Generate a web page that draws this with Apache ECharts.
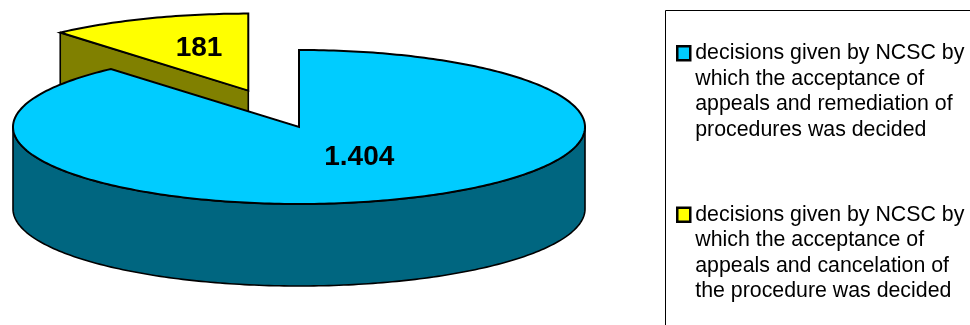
<!DOCTYPE html>
<html>
<head>
<meta charset="utf-8">
<style>html,body{margin:0;padding:0;background:#fff}#c{width:970px;height:325px}</style>
<script src="https://cdn.jsdelivr.net/npm/echarts@6/dist/echarts.min.js"></script>
</head>
<body>
<div id="c"></div>
<script>
const categories = [
  "decisions given by NCSC by\nwhich the acceptance of\nappeals and remediation of\nprocedures was decided",
  "decisions given by NCSC by\nwhich the acceptance of\nappeals and cancelation of\nthe procedure was decided"
];
const values = [1404, 181];
const valueLabels = ["1.404", "181"];
const topColors = ["#00CCFF", "#FFFF00"];
const wallColors = ["#006680", "#808000"];

const CX = 299, CY = 127, RX = 286, RY = 77, DEPTH = 82;
const EXPLODE = [0, 0.505];
const LABEL_AT = [[0.6, 0.42], [0.49, 0.585]];
const total = values.reduce((a, b) => a + b, 0);

function pt(c, deg, dy) {
  const t = deg * Math.PI / 180;
  return [c[0] + RX * Math.sin(t), c[1] - RY * Math.cos(t) + (dy || 0)];
}
function arc(c, a0, a1, dy) {
  const out = [], n = Math.max(2, Math.ceil(Math.abs(a1 - a0)));
  for (let i = 0; i <= n; i++) out.push(pt(c, a0 + (a1 - a0) * i / n, dy));
  return out;
}
function makeRender(idx) {
  return function (params, api) {
    const before = values.slice(0, idx).reduce((a, b) => a + b, 0);
    const a0 = before / total * 360;
    const a1 = a0 + api.value(0) / total * 360;
    const mid = (a0 + a1) / 2, mr = mid * Math.PI / 180;
    const c = [CX + EXPLODE[idx] * RX * Math.sin(mr), CY - EXPLODE[idx] * RY * Math.cos(mr)];
    const children = [];
    const lineStyle = { stroke: "#000", lineWidth: 1.6, lineJoin: "round" };
    const wall = wallColors[idx], top = topColors[idx];
    // visible outer wall: front half of the rim
    const f0 = Math.max(a0, 90), f1 = Math.min(a1, 270);
    if (f1 > f0) {
      children.push({ type: "polygon",
        shape: { points: arc(c, f0, f1, 0).concat(arc(c, f1, f0, DEPTH)) },
        style: Object.assign({ fill: wall }, lineStyle) });
    }
    // visible cut face: the wedge whose front edge faces the viewer
    if (a0 > 270) {
      const p = pt(c, a0);
      children.push({ type: "polygon",
        shape: { points: [c, p, [p[0], p[1] + DEPTH], [c[0], c[1] + DEPTH]] },
        style: Object.assign({ fill: wall }, lineStyle) });
    }
    // top face
    children.push({ type: "polygon",
      shape: { points: [c].concat(arc(c, a0, a1, 0)) },
      style: { fill: top, stroke: "#000", lineWidth: 2, lineJoin: "miter" } });
    // value label
    children.push({ type: "text",
      style: { x: c[0] + LABEL_AT[idx][0] * RX * Math.sin(mr),
               y: c[1] - LABEL_AT[idx][1] * RY * Math.cos(mr),
               text: valueLabels[idx], align: "center", verticalAlign: "middle",
               font: "bold 28px 'Liberation Sans', Arial, sans-serif", fill: "#000" } });
    return { type: "group", children };
  };
}

const chart = echarts.init(document.getElementById("c"), null, { renderer: "canvas" });
const order = [1, 0];
chart.setOption({
  animation: false,
  backgroundColor: "#fff",
  legend: {
    orient: "vertical", left: 676, top: -37, padding: 0,
    itemWidth: 13, itemHeight: 14, itemGap: -19, icon: "rect",
    selectedMode: false,
    data: categories,
    itemStyle: { borderColor: "#000", borderWidth: 2.5 },
    formatter: n => "\n\n\n" + n,
    textStyle: { fontFamily: "'Liberation Sans', Arial, sans-serif", fontSize: 21.33, lineHeight: 25.5, color: "#000", padding: [2, 0, 0, 0] }
  },
  graphic: [{ type: "rect", silent: true, z: -1,
    shape: { x: 665.5, y: 10.5, width: 400, height: 400 },
    style: { fill: "#fff", stroke: "#000", lineWidth: 1 } }],
  series: order.map(i => ({
    type: "custom", name: categories[i], coordinateSystem: "none",
    itemStyle: { color: topColors[i] },
    data: [[values[i]]],
    renderItem: makeRender(i),
    silent: true
  }))
});
</script>
</body>
</html>
